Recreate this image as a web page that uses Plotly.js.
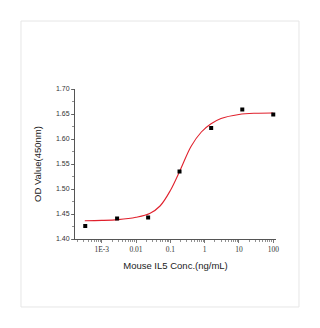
<!DOCTYPE html>
<html>
<head>
<meta charset="utf-8">
<script src="https://cdn.plot.ly/plotly-3.0.1.min.js"></script>
<style>
html,body{margin:0;padding:0;background:#fff;}
#chart{width:320px;height:328px;}
</style>
</head>
<body>
<div id="chart"></div>
<script>
// Measured points
var concentration = [0.00033, 0.0028, 0.0225, 0.185, 1.55, 12.5, 100];
var odValue = [1.426, 1.441, 1.443, 1.535, 1.622, 1.659, 1.649];

// Fitted curve
var fitConc = [0.00032, 0.001, 0.003, 0.01, 0.025, 0.05, 0.1, 0.2, 0.4, 0.8, 1.5, 3, 10, 30, 100];
var fitOD = [1.4366, 1.4372, 1.4388, 1.4435, 1.451, 1.466, 1.497, 1.540, 1.585, 1.614, 1.630, 1.641, 1.649, 1.6515, 1.652];

var xTickVals = [0.001, 0.01, 0.1, 1, 10, 100];
var xTickText = ["1E-3", "0.01", "0.1", "1", "10", "100"];
var yTickVals = [1.40, 1.45, 1.50, 1.55, 1.60, 1.65, 1.70];
var yTickText = ["1.40", "1.45", "1.50", "1.55", "1.60", "1.65", "1.70"];

var minorX = [];
for (var d = -4; d <= 2; d++) {
  for (var m = 2; m <= 9; m++) {
    minorX.push(m * Math.pow(10, d));
  }
}

var traces = [
  {
    x: fitConc, y: fitOD, type: 'scatter', mode: 'lines',
    line: {color: '#e0202c', width: 1.1, shape: 'spline'},
    hoverinfo: 'skip'
  },
  {
    x: concentration, y: odValue, type: 'scatter', mode: 'markers',
    marker: {symbol: 'square', size: 4, color: '#000'}
  }
];

var layout = {
  width: 320, height: 328,
  margin: {l: 75, r: 44, t: 89, b: 89},
  paper_bgcolor: '#fff', plot_bgcolor: '#fff',
  showlegend: false,
  font: {family: 'Liberation Sans, Arial, sans-serif', color: '#222'},
  xaxis: {
    type: 'log',
    range: [-3.78, 2.08],
    tickmode: 'array', tickvals: xTickVals, ticktext: xTickText,
    ticks: 'outside', ticklen: 3, tickwidth: 0.8, tickcolor: '#555',
    showline: true, linecolor: '#555', linewidth: 1,
    showgrid: false, zeroline: false,
    tickfont: {size: 7.5, family: 'Liberation Serif, serif', color: '#333'},
    minor: {tickmode: 'array', tickvals: minorX, ticks: 'outside', ticklen: 2, tickcolor: '#777', showgrid: false},
    title: {text: 'Mouse IL5 Conc.(ng/mL)', font: {size: 9.5, family: 'Liberation Sans, Arial, sans-serif', color: '#222'}, standoff: 9}
  },
  yaxis: {
    range: [1.40, 1.70],
    tickmode: 'array', tickvals: yTickVals, ticktext: yTickText,
    ticks: 'outside', ticklen: 3, tickwidth: 0.8, tickcolor: '#555',
    showline: true, linecolor: '#555', linewidth: 1,
    showgrid: false, zeroline: false,
    tickfont: {size: 7, family: 'Liberation Sans, Arial, sans-serif', color: '#333'},
    minor: {dtick: 0.025, ticks: 'outside', ticklen: 2, tickcolor: '#777', showgrid: false},
    title: {text: 'OD Value(450nm)', font: {size: 9.5, family: 'Liberation Sans, Arial, sans-serif', color: '#222'}, standoff: 12}
  },
  shapes: [
    {type: 'rect', xref: 'paper', yref: 'paper', x0: -0.2687, x1: 1.1144, y0: -0.4533, y1: 1.4533,
     line: {color: '#e6e6e6', width: 1}, fillcolor: 'rgba(0,0,0,0)'}
  ]
};

Plotly.newPlot('chart', traces, layout, {displayModeBar: false, staticPlot: true});
</script>
</body>
</html>
